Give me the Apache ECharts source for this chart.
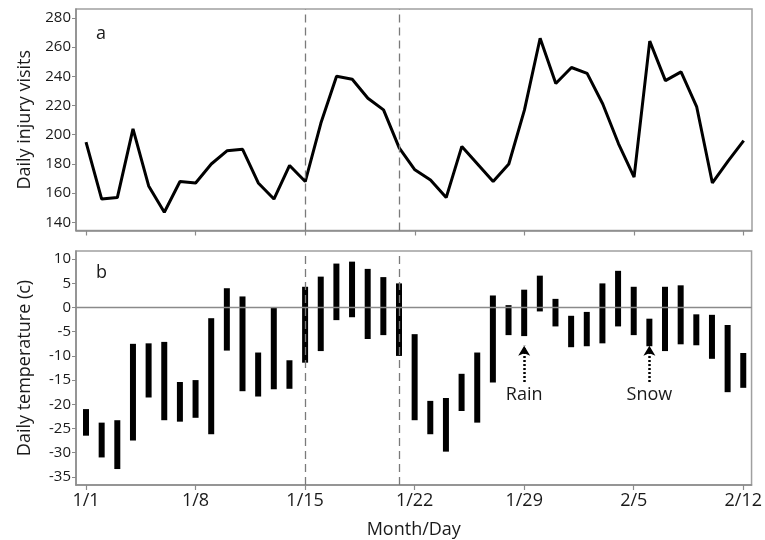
<!DOCTYPE html>
<html>
<head>
<meta charset="utf-8">
<script src="https://cdn.jsdelivr.net/npm/echarts@6/dist/echarts.min.js"></script>
<style>
  html, body { margin: 0; padding: 0; background: #fff; }
  #chart { width: 765px; height: 540px; }
</style>
</head>
<body>
<div id="chart"></div>
<script>
  // 1/1 .. 2/12, day index 0..42
  const tickDays = [0, 7, 14, 21, 28, 35, 42];
  const tickLabels = ['1/1', '1/8', '1/15', '1/22', '1/29', '2/5', '2/12'];
  const markerDays = [14, 20];

  const visits = [195, 156, 157, 204, 165, 147, 168, 167, 180, 189,
    190, 167, 156, 179, 168, 208, 240, 238, 225, 217,
    191, 176, 169, 157, 192, 180, 168, 180, 217, 266,
    235, 246, 242, 221, 194, 171, 264, 237, 243, 219,
    167, 182, 196];

  const tempHigh = [-21, -23.8, -23.3, -7.5, -7.4, -7.1, -15.4, -15, -2.2, 4,
    2.3, -9.3, 0, -10.9, 4.3, 6.4, 9.1, 9.5, 8, 6.3,
    5, -5.5, -19.3, -18.7, -13.7, -9.3, 2.5, 0.5, 3.7, 6.6,
    1.8, -1.7, -0.9, 5, 7.6, 4.3, -2.3, 4.3, 4.6, -1.4,
    -1.5, -3.6, -9.4];
  const tempLow = [-26.5, -31, -33.4, -27.5, -18.6, -23.3, -23.6, -22.8, -26.2, -8.9,
    -17.3, -18.4, -16.9, -16.8, -11.4, -9, -2.6, -2, -6.5, -5.7,
    -10, -23.3, -26.2, -29.8, -21.4, -23.8, -15.5, -5.7, -5.9, -0.8,
    -3.9, -8.2, -8, -7.4, -3.9, -5.7, -8, -9, -7.6, -7.8,
    -10.6, -17.5, -16.6];

  const visitTicks = [140, 160, 180, 200, 220, 240, 260, 280];
  const tempTicks = [-35, -30, -25, -20, -15, -10, -5, 0, 5, 10];

  const notes = ['Rain', 'Snow'];
  const noteDays = [28, 36];
  const arrowFrom = -15.4, arrowTo = -7.9, noteAt = -18;

  const font = '"Open Sans", "Noto Sans", sans-serif';
  const axisGray = '#8a8a8a';
  const ink = '#1a1a1a';

  const chart = echarts.init(document.getElementById('chart'));

  const xBase = {
    type: 'value', min: -0.64, max: 42.53,
    splitLine: { show: false },
    axisLine: { show: true, onZero: false, lineStyle: { color: axisGray, width: 1.5 } },
    axisTick: { show: true, customValues: tickDays, length: 5, lineStyle: { color: axisGray, width: 1.2 } }
  };

  const yBase = {
    type: 'value', nameLocation: 'middle', nameGap: 42,
    nameTextStyle: { fontSize: 18, color: ink, fontFamily: font },
    splitLine: { show: false },
    axisLine: { show: true, onZero: false, lineStyle: { color: axisGray, width: 1.5 } }
  };

  const option = {
    animation: false,
    textStyle: { fontFamily: font },
    grid: [
      { left: 76, right: 13, top: 9, height: 221.5, show: true, borderColor: '#a0a0a0', borderWidth: 1.5 },
      { left: 76, right: 13, top: 251, height: 240, show: true, borderColor: '#a0a0a0', borderWidth: 1.5 }
    ],
    xAxis: [
      Object.assign({}, xBase, { gridIndex: 0, axisLabel: { show: false } }),
      Object.assign({}, xBase, {
        gridIndex: 1,
        name: 'Month/Day', nameLocation: 'middle', nameGap: 36,
        nameTextStyle: { fontSize: 18, color: ink, fontFamily: font },
        axisLabel: {
          customValues: tickDays, fontSize: 18, color: ink, margin: 7,
          formatter: v => tickLabels[tickDays.indexOf(v)]
        }
      })
    ],
    yAxis: [
      Object.assign({}, yBase, {
        gridIndex: 0, min: 134.5, max: 286,
        name: 'Daily injury visits',
        axisTick: { show: true, customValues: visitTicks, length: 4, lineStyle: { color: axisGray } },
        axisLabel: { customValues: visitTicks, fontSize: 15, color: ink, margin: 5 }
      }),
      Object.assign({}, yBase, {
        gridIndex: 1, min: -36.7, max: 11.7,
        name: 'Daily temperature (c)',
        axisTick: { show: true, customValues: tempTicks, length: 4, lineStyle: { color: axisGray } },
        axisLabel: { customValues: tempTicks, fontSize: 15, color: ink, margin: 5 }
      })
    ],
    graphic: [
      { type: 'text', left: 96, top: 25, style: { text: 'a', fontSize: 18, fill: ink, fontFamily: font } },
      { type: 'text', left: 96, top: 264, style: { text: 'b', fontSize: 18, fill: ink, fontFamily: font } }
    ],
    series: [
      {
        type: 'line', xAxisIndex: 0, yAxisIndex: 0,
        data: visits.map((v, i) => [i, v]),
        symbol: 'none',
        lineStyle: { color: '#000', width: 3 },
        markLine: {
          symbol: 'none', silent: true,
          label: { show: false },
          lineStyle: { color: '#7a7a7a', type: [8, 5], width: 1.3 },
          data: markerDays.map(d => ({ xAxis: d }))
        }
      },
      {
        type: 'custom', xAxisIndex: 1, yAxisIndex: 1,
        data: tempHigh.map((h, i) => [i, tempLow[i], h]),
        encode: { x: 0, y: [1, 2] },
        renderItem: function (params, api) {
          const top = api.coord([api.value(0), api.value(2)]);
          const bot = api.coord([api.value(0), api.value(1)]);
          return {
            type: 'rect',
            shape: { x: top[0] - 3, y: top[1], width: 6, height: bot[1] - top[1] },
            style: { fill: '#000' }
          };
        },
        markLine: {
          symbol: 'none', silent: true,
          label: { show: false },
          data: [
            { yAxis: 0, lineStyle: { color: '#8a8a8a', type: 'solid', width: 1.3 } }
          ].concat(markerDays.map(d => ({ xAxis: d, lineStyle: { color: '#7a7a7a', type: [8, 5], width: 1.3 } })))
        }
      },
      {
        type: 'scatter', xAxisIndex: 1, yAxisIndex: 1,
        data: noteDays.map((d, i) => ({ value: [d, noteAt], name: notes[i] })),
        symbolSize: 0,
        itemStyle: { opacity: 1 },
        label: {
          show: true, position: 'inside', formatter: '{b}',
          fontSize: 18, color: ink, opacity: 1, textBorderWidth: 0, fontFamily: font
        },
        markLine: {
          symbol: ['none', 'arrow'], symbolSize: [9, 10], silent: true,
          label: { show: false },
          lineStyle: { color: '#000', type: [2, 2], width: 2.5 },
          data: noteDays.map(d => [{ coord: [d, arrowFrom] }, { coord: [d, arrowTo] }])
        }
      }
    ]
  };

  chart.setOption(option);
</script>
</body>
</html>
